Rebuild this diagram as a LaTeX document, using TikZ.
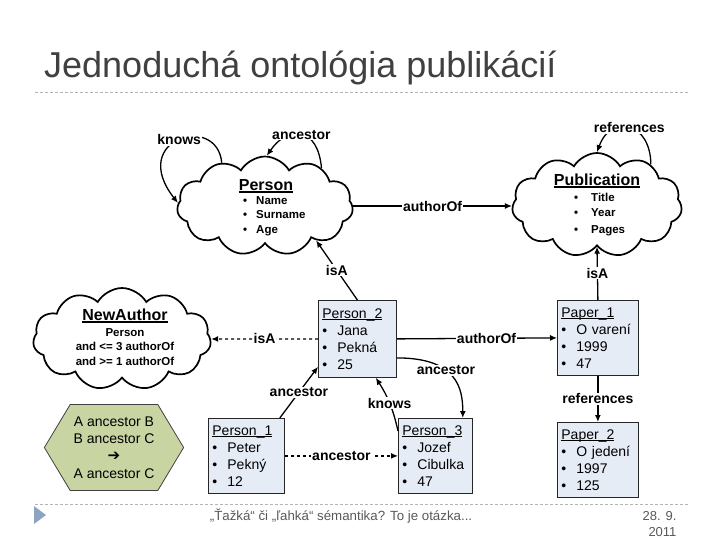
\documentclass[tikz,border=0pt]{standalone}
\usepackage{fontspec}
\setmainfont{Liberation Sans}
\newfontfamily\symfont{DejaVu Sans}
\usetikzlibrary{shapes.symbols,arrows.meta,calc}
\definecolor{boxblue}{HTML}{E6ECF6}
\definecolor{rulegreen}{HTML}{C9D4A3}
\definecolor{titlegray}{HTML}{404040}
\definecolor{linegray}{HTML}{B4B4B4}
\definecolor{footblue}{HTML}{8DA3C4}
\newcommand{\itembul}[1]{\makebox[#1][l]{\textbullet}}
\newsavebox\ulbox
\newcommand{\uln}[2][0.9pt]{\leavevmode\sbox\ulbox{#2}\rlap{\rule[-2pt]{\wd\ulbox}{#1}}\usebox\ulbox}
\tikzset{
  >={Latex[length=7pt,width=6pt]},
  concept/.style={cloud, cloud ignores aspect, draw, line width=1.7pt, cloud puffs=11, cloud puff arc=120, inner sep=0pt},
  ctitle/.style={font=\bfseries\fontsize{16}{18}\selectfont},
  citems/.style={font=\bfseries\fontsize{11.5}{14.5}\selectfont, align=left, anchor=north west, inner sep=0pt},
  inst/.style={draw=black!85, line width=0.8pt, fill=boxblue, anchor=north west, align=left, inner sep=4pt, font=\fontsize{14}{17}\selectfont},
  rel/.style={->, line width=1.3pt},
  lbl/.style={fill=white, inner sep=1pt, font=\bfseries\fontsize{14}{14}\selectfont},
  rulebox/.style={signal, signal to=west and east, signal pointer angle=118, draw=black!75, line width=0.8pt, fill=rulegreen, minimum width=128pt, minimum height=86pt, align=center, font=\fontsize{14}{17.3}\selectfont},
}
\begin{document}
\begin{tikzpicture}[x=1pt,y=-1pt]
\useasboundingbox (0,0) rectangle (720,540);

% title and rules
\node[anchor=base west, inner sep=0pt, text=titlegray, font=\fontsize{36}{40}\selectfont] (title) at (44,78) {Jednoduchá ontológia publikácií};
\draw[linegray, line width=0.8pt, dash pattern=on 3pt off 2pt] (35,92) -- (690,92);
\draw[linegray, line width=0.8pt, dash pattern=on 3pt off 2pt] (35,504) -- (690,504);

% concepts
\node[concept, minimum width=176pt, minimum height=99pt] (person) at (265,206) {};
\node[ctitle] (personT) at (266,186) {\uln[1.3pt]{Person}};
\node[citems] (personL) at (243,196) {\itembul{13pt}Name\\\itembul{13pt}Surname\\\itembul{13pt}Age};

\node[concept, minimum width=170pt, minimum height=104pt] (pub) at (597,205) {};
\node[ctitle] (pubT) at (597,181) {\uln[1.3pt]{Publication}};
\node[citems] (pubL) at (574,193) {\itembul{17pt}Title\\\itembul{17pt}Year\\[3pt]\itembul{17pt}Pages};

\node[concept, minimum width=178pt, minimum height=102pt] (newA) at (122,339) {};
\node[ctitle] (newAT) at (125,316) {\uln[1.3pt]{NewAuthor}};
\node[citems, anchor=center, align=center] (newAL) at (125,347) {Person\\and <= 3 authorOf\\and >= 1 authorOf};

% instances
\node[inst, text width=70pt, minimum height=77pt] (p2) at (318,300) {\uln{Person\_2}\\\itembul{15pt}Jana\\\itembul{15pt}Pekná\\\itembul{15pt}25};
\node[inst, text width=73pt, minimum height=75pt] (paper1) at (557,300) {\uln{Paper\_1}\\\itembul{15pt}O varení\\\itembul{15pt}1999\\\itembul{15pt}47};
\node[inst, text width=68pt, minimum height=75pt] (p1) at (208,418) {\uln{Person\_1}\\\itembul{15pt}Peter\\\itembul{15pt}Pekný\\\itembul{15pt}12};
\node[inst, text width=66pt, minimum height=75pt] (p3) at (398,418) {\uln{Person\_3}\\\itembul{15pt}Jozef\\\itembul{15pt}Cibulka\\\itembul{15pt}47};
\node[inst, text width=73pt, minimum height=75pt] (paper2) at (557,422) {\uln{Paper\_2}\\\itembul{15pt}O jedení\\\itembul{15pt}1997\\\itembul{15pt}125};

% rule
\node[rulebox] (rule) at (114,447.5) {A ancestor B\\B ancestor C\\{\symfont\bfseries\fontsize{15}{15}\selectfont ➔}\\A ancestor C};

% relations between concepts
\draw[rel] (person.135) to[out=95, in=128, out distance=50pt, in distance=82pt] node[lbl]{knows} (person.178);
\draw[rel] (person.34) to[out=95, in=55, distance=40pt] node[lbl]{ancestor} (person.88);
\draw[rel] (pub.37) to[out=90, in=70, distance=42pt] node[lbl]{references} (pub.north);
\draw[rel] (person.east) -- node[lbl]{authorOf} (person.east -| pub.west);

% isA
\draw[rel] (p2.north) -- node[lbl]{isA} (person.-34);
\draw[rel] (paper1.north) -- node[lbl]{isA} (pub.south);
\draw[rel, dashed] (p2.west) -- node[lbl]{isA} (newA.east);

% relations between instances
\draw[rel] (p2.east) -- node[lbl, pos=0.56]{authorOf} (paper1.west);
\draw[rel] ([yshift=-19pt]p2.east) to[out=0, in=90, out distance=60pt, in distance=30pt] node[lbl, pos=0.4]{ancestor} ([xshift=-10pt]p3.north east);
\draw[rel] ([xshift=-5pt]p1.north east) -- node[lbl]{ancestor} ([yshift=11pt]p2.south west);
\draw[rel] ([yshift=-13pt]p3.north west) to[bend right=10] node[lbl]{knows} ([xshift=-21pt]p2.south east);
\draw[rel, dashed] (p1.east) -- node[lbl]{ancestor} (p3.west);
\draw[rel] (paper1.south) -- node[lbl]{references} (paper2.north);

% footer
\fill[footblue] (34,506) -- (46,515) -- (34,524) -- cycle;
\node[text=black!65, font=\fontsize{13.3}{15}\selectfont] (foot) at (341,516) {„Ťažká“ či „ľahká“ sémantika? To je otázka...};
\node[anchor=east, text=black!65, font=\fontsize{13}{15}\selectfont] (date) at (680,516) {28. 9.};
\node[anchor=east, text=black!65, font=\fontsize{13}{15}\selectfont] (year) at (680,532) {2011};
\end{tikzpicture}
\end{document}
